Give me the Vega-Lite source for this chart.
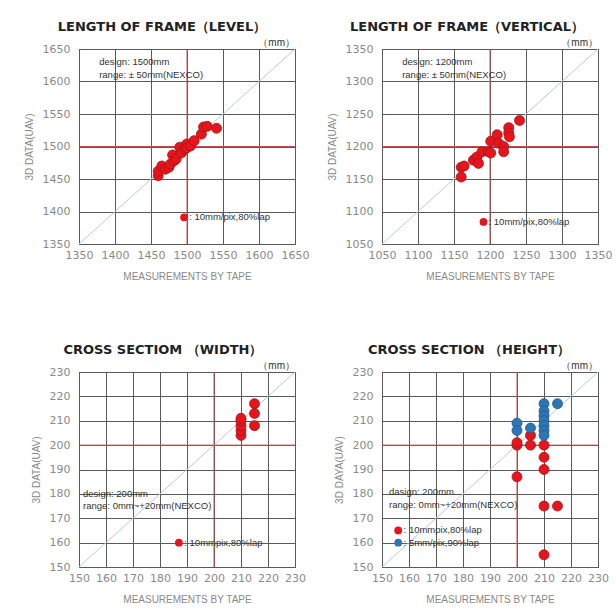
{
  "$schema": "https://vega.github.io/schema/vega-lite/v6.json",
  "background": "white",
  "padding": {"left": 23, "top": 20, "right": 5, "bottom": 5},
  "bounds": "flush",
  "spacing": {"row": 128, "column": 87},
  "columns": 2,
  "config": {
    "font": "Liberation Sans",
    "view": {"stroke": "#333333", "strokeWidth": 1},
    "axis": {"labelColor": "#8a8a8a", "labelFontSize": 11, "labelFont": "DejaVu Sans", "labelOverlap": false, "labelFlush": false, "format": "d", "titleColor": "#8a8a8a", "titleFontSize": 10, "titleFont": "Liberation Sans", "titleFontWeight": "normal", "gridColor": "#5a5a5a", "gridOpacity": 1, "ticks": false, "domain": false},
    "axisX": {"labelPadding": 5, "titlePadding": 11},
    "axisY": {"labelPadding": 9, "titlePadding": 8},
    "title": {"font": "DejaVu Sans", "fontSize": 13, "fontWeight": "bold", "color": "#222222", "offset": 4}
  },
  "datasets": {
    "level": [
      {"x": 1460, "y": 1455}, {"x": 1460, "y": 1462}, {"x": 1465, "y": 1470}, {"x": 1470, "y": 1465},
      {"x": 1475, "y": 1468}, {"x": 1477, "y": 1473}, {"x": 1480, "y": 1487}, {"x": 1482, "y": 1478},
      {"x": 1485, "y": 1481}, {"x": 1490, "y": 1499}, {"x": 1492, "y": 1490}, {"x": 1497, "y": 1496},
      {"x": 1500, "y": 1504}, {"x": 1500, "y": 1498}, {"x": 1505, "y": 1501}, {"x": 1510, "y": 1509},
      {"x": 1520, "y": 1519}, {"x": 1523, "y": 1530}, {"x": 1528, "y": 1531}, {"x": 1541, "y": 1528}
    ],
    "vertical": [
      {"x": 1160, "y": 1153}, {"x": 1160, "y": 1168}, {"x": 1164, "y": 1170}, {"x": 1177, "y": 1179},
      {"x": 1182, "y": 1184}, {"x": 1184, "y": 1174}, {"x": 1189, "y": 1192}, {"x": 1198, "y": 1192},
      {"x": 1201, "y": 1208}, {"x": 1201, "y": 1190}, {"x": 1210, "y": 1218}, {"x": 1212, "y": 1205},
      {"x": 1219, "y": 1200}, {"x": 1219, "y": 1192}, {"x": 1226, "y": 1229}, {"x": 1226, "y": 1221},
      {"x": 1227, "y": 1215}, {"x": 1241, "y": 1240}
    ],
    "width": [
      {"x": 210, "y": 204}, {"x": 210, "y": 206}, {"x": 210, "y": 208}, {"x": 210, "y": 210}, {"x": 210, "y": 211},
      {"x": 215, "y": 208}, {"x": 215, "y": 213}, {"x": 215, "y": 217}
    ],
    "heightRed": [
      {"x": 200, "y": 200}, {"x": 200, "y": 201}, {"x": 200, "y": 187}, {"x": 205, "y": 200}, {"x": 205, "y": 204},
      {"x": 210, "y": 200}, {"x": 210, "y": 195}, {"x": 210, "y": 190}, {"x": 210, "y": 175}, {"x": 215, "y": 175},
      {"x": 210, "y": 155}
    ],
    "heightBlue": [
      {"x": 200, "y": 209}, {"x": 200, "y": 206}, {"x": 205, "y": 207}, {"x": 210, "y": 217}, {"x": 210, "y": 214},
      {"x": 210, "y": 212}, {"x": 210, "y": 210}, {"x": 210, "y": 208}, {"x": 210, "y": 206}, {"x": 210, "y": 204},
      {"x": 215, "y": 217}
    ]
  },
  "concat": [
    {
      "width": 216, "height": 195,
      "title": {"text": "LENGTH OF FRAME（LEVEL）", "dx": -25},
      "encoding": {
        "x": {"field": "x", "type": "quantitative", "scale": {"domain": [1350, 1650], "nice": false, "zero": false}, "axis": {"values": [1350, 1400, 1450, 1500, 1550, 1600, 1650], "title": "MEASUREMENTS BY TAPE"}},
        "y": {"field": "y", "type": "quantitative", "scale": {"domain": [1350, 1650], "nice": false, "zero": false}, "axis": {"values": [1350, 1400, 1450, 1500, 1550, 1600, 1650], "title": "3D  DATA(UAV)"}}
      },
      "layer": [
        {"data": {"values": [{"x": 1350, "y": 1350, "x2": 1650, "y2": 1650}]}, "mark": {"type": "rule", "color": "#b4cbe2", "strokeWidth": 1}, "encoding": {"x2": {"field": "x2"}, "y2": {"field": "y2"}}},
        {"data": {"values": [{"x": 1500, "y": 1350, "x2": 1500, "y2": 1650}, {"x": 1350, "y": 1500, "x2": 1650, "y2": 1500}]}, "mark": {"type": "rule", "color": "#c0504d", "strokeWidth": 1}, "encoding": {"x2": {"field": "x2"}, "y2": {"field": "y2"}}},
        {"data": {"name": "level"}, "mark": {"type": "point", "filled": true, "size": 100, "color": "#e8141c", "stroke": "#a01818", "strokeWidth": 0.8, "opacity": 1}},
        {"data": {"values": [{"x": 1496, "y": 1391}]}, "mark": {"type": "point", "filled": true, "size": 60, "color": "#e8141c", "opacity": 1}},
        {"data": {"values": [{"x": 1378, "y": 1630, "label": "design: 1500mm"}, {"x": 1378, "y": 1610, "label": "range: ± 50mm(NEXCO)"}, {"x": 1503, "y": 1391, "label": ": 10mm/pix,80%lap"}]}, "mark": {"type": "text", "align": "left", "baseline": "middle", "fontSize": 9.5, "color": "#333333"}, "encoding": {"text": {"field": "label"}}},
        {"data": {"values": [{"x": 1650, "y": 1650, "label": "（mm）"}]}, "mark": {"type": "text", "align": "right", "baseline": "bottom", "dy": -1, "fontSize": 10, "color": "#333333", "clip": false}, "encoding": {"text": {"field": "label"}}}
      ]
    },
    {
      "width": 216, "height": 195,
      "title": {"text": "LENGTH OF FRAME（VERTICAL）", "dx": -23},
      "encoding": {
        "x": {"field": "x", "type": "quantitative", "scale": {"domain": [1050, 1350], "nice": false, "zero": false}, "axis": {"values": [1050, 1100, 1150, 1200, 1250, 1300, 1350], "title": "MEASUREMENTS BY TAPE"}},
        "y": {"field": "y", "type": "quantitative", "scale": {"domain": [1050, 1350], "nice": false, "zero": false}, "axis": {"values": [1050, 1100, 1150, 1200, 1250, 1300, 1350], "title": "3D DATA(UAV)"}}
      },
      "layer": [
        {"data": {"values": [{"x": 1050, "y": 1050, "x2": 1350, "y2": 1350}]}, "mark": {"type": "rule", "color": "#b4cbe2", "strokeWidth": 1}, "encoding": {"x2": {"field": "x2"}, "y2": {"field": "y2"}}},
        {"data": {"values": [{"x": 1200, "y": 1050, "x2": 1200, "y2": 1350}, {"x": 1050, "y": 1200, "x2": 1350, "y2": 1200}]}, "mark": {"type": "rule", "color": "#c0504d", "strokeWidth": 1}, "encoding": {"x2": {"field": "x2"}, "y2": {"field": "y2"}}},
        {"data": {"name": "vertical"}, "mark": {"type": "point", "filled": true, "size": 100, "color": "#e8141c", "stroke": "#a01818", "strokeWidth": 0.8, "opacity": 1}},
        {"data": {"values": [{"x": 1191, "y": 1084}]}, "mark": {"type": "point", "filled": true, "size": 60, "color": "#e8141c", "opacity": 1}},
        {"data": {"values": [{"x": 1078, "y": 1330, "label": "design: 1200mm"}, {"x": 1078, "y": 1310, "label": "range: ± 50mm(NEXCO)"}, {"x": 1198, "y": 1084, "label": ": 10mm/pix,80%lap"}]}, "mark": {"type": "text", "align": "left", "baseline": "middle", "fontSize": 9.5, "color": "#333333"}, "encoding": {"text": {"field": "label"}}},
        {"data": {"values": [{"x": 1350, "y": 1350, "label": "（mm）"}]}, "mark": {"type": "text", "align": "right", "baseline": "bottom", "dy": -1, "fontSize": 10, "color": "#333333", "clip": false}, "encoding": {"text": {"field": "label"}}}
      ]
    },
    {
      "width": 216, "height": 195,
      "title": {"text": "CROSS SECTIOM （WIDTH）", "dx": -24},
      "encoding": {
        "x": {"field": "x", "type": "quantitative", "scale": {"domain": [150, 230], "nice": false, "zero": false}, "axis": {"values": [150, 160, 170, 180, 190, 200, 210, 220, 230], "title": "MEASUREMENTS BY TAPE"}},
        "y": {"field": "y", "type": "quantitative", "scale": {"domain": [150, 230], "nice": false, "zero": false}, "axis": {"values": [150, 160, 170, 180, 190, 200, 210, 220, 230], "title": "3D DATA(UAV)"}}
      },
      "layer": [
        {"data": {"values": [{"x": 150, "y": 150, "x2": 230, "y2": 230}]}, "mark": {"type": "rule", "color": "#b4cbe2", "strokeWidth": 1}, "encoding": {"x2": {"field": "x2"}, "y2": {"field": "y2"}}},
        {"data": {"values": [{"x": 200, "y": 150, "x2": 200, "y2": 230}, {"x": 150, "y": 200, "x2": 230, "y2": 200}]}, "mark": {"type": "rule", "color": "#c0504d", "strokeWidth": 1}, "encoding": {"x2": {"field": "x2"}, "y2": {"field": "y2"}}},
        {"data": {"name": "width"}, "mark": {"type": "point", "filled": true, "size": 100, "color": "#e8141c", "stroke": "#a01818", "strokeWidth": 0.8, "opacity": 1}},
        {"data": {"values": [{"x": 187, "y": 160}]}, "mark": {"type": "point", "filled": true, "size": 60, "color": "#e8141c", "opacity": 1}},
        {"data": {"values": [{"x": 151.5, "y": 180, "label": "design: 200mm"}, {"x": 151.5, "y": 175, "label": "range: 0mm~+20mm(NEXCO)"}, {"x": 189, "y": 160, "label": ": 10mmpix,80%lap"}]}, "mark": {"type": "text", "align": "left", "baseline": "middle", "fontSize": 9.5, "color": "#333333"}, "encoding": {"text": {"field": "label"}}},
        {"data": {"values": [{"x": 230, "y": 230, "label": "（mm）"}]}, "mark": {"type": "text", "align": "right", "baseline": "bottom", "dy": -1, "fontSize": 10, "color": "#333333", "clip": false}, "encoding": {"text": {"field": "label"}}}
      ]
    },
    {
      "width": 216, "height": 195,
      "title": {"text": "CROSS SECTION （HEIGHT）", "dx": -21},
      "encoding": {
        "x": {"field": "x", "type": "quantitative", "scale": {"domain": [150, 230], "nice": false, "zero": false}, "axis": {"values": [150, 160, 170, 180, 190, 200, 210, 220, 230], "title": "MEASUREMENTS BY TAPE"}},
        "y": {"field": "y", "type": "quantitative", "scale": {"domain": [150, 230], "nice": false, "zero": false}, "axis": {"values": [150, 160, 170, 180, 190, 200, 210, 220, 230], "title": "3D DAYA(UAV)"}}
      },
      "layer": [
        {"data": {"values": [{"x": 150, "y": 150, "x2": 230, "y2": 230}]}, "mark": {"type": "rule", "color": "#b4cbe2", "strokeWidth": 1}, "encoding": {"x2": {"field": "x2"}, "y2": {"field": "y2"}}},
        {"data": {"values": [{"x": 200, "y": 150, "x2": 200, "y2": 230}, {"x": 150, "y": 200, "x2": 230, "y2": 200}]}, "mark": {"type": "rule", "color": "#c0504d", "strokeWidth": 1}, "encoding": {"x2": {"field": "x2"}, "y2": {"field": "y2"}}},
        {"data": {"name": "heightRed"}, "mark": {"type": "point", "filled": true, "size": 100, "color": "#e8141c", "stroke": "#a01818", "strokeWidth": 0.8, "opacity": 1}},
        {"data": {"name": "heightBlue"}, "mark": {"type": "point", "filled": true, "size": 100, "color": "#2e75b6", "stroke": "#1f5a90", "strokeWidth": 0.8, "opacity": 1}},
        {"data": {"values": [{"x": 156, "y": 165, "c": "r"}]}, "mark": {"type": "point", "filled": true, "size": 60, "color": "#e8141c", "opacity": 1}},
        {"data": {"values": [{"x": 156, "y": 160, "c": "b"}]}, "mark": {"type": "point", "filled": true, "size": 60, "color": "#2e75b6", "opacity": 1}},
        {"data": {"values": [{"x": 152.6, "y": 180.8, "label": "dasign: 200mm"}, {"x": 152.6, "y": 175.5, "label": "range: 0mm~+20mm(NEXCO)"}, {"x": 158, "y": 165, "label": ": 10mmpix,80%lap"}, {"x": 158, "y": 160, "label": ": 5mm/pix,90%lap"}]}, "mark": {"type": "text", "align": "left", "baseline": "middle", "fontSize": 9.5, "color": "#333333"}, "encoding": {"text": {"field": "label"}}},
        {"data": {"values": [{"x": 230, "y": 230, "label": "（mm）"}]}, "mark": {"type": "text", "align": "right", "baseline": "bottom", "dy": -1, "fontSize": 10, "color": "#333333", "clip": false}, "encoding": {"text": {"field": "label"}}}
      ]
    }
  ]
}
